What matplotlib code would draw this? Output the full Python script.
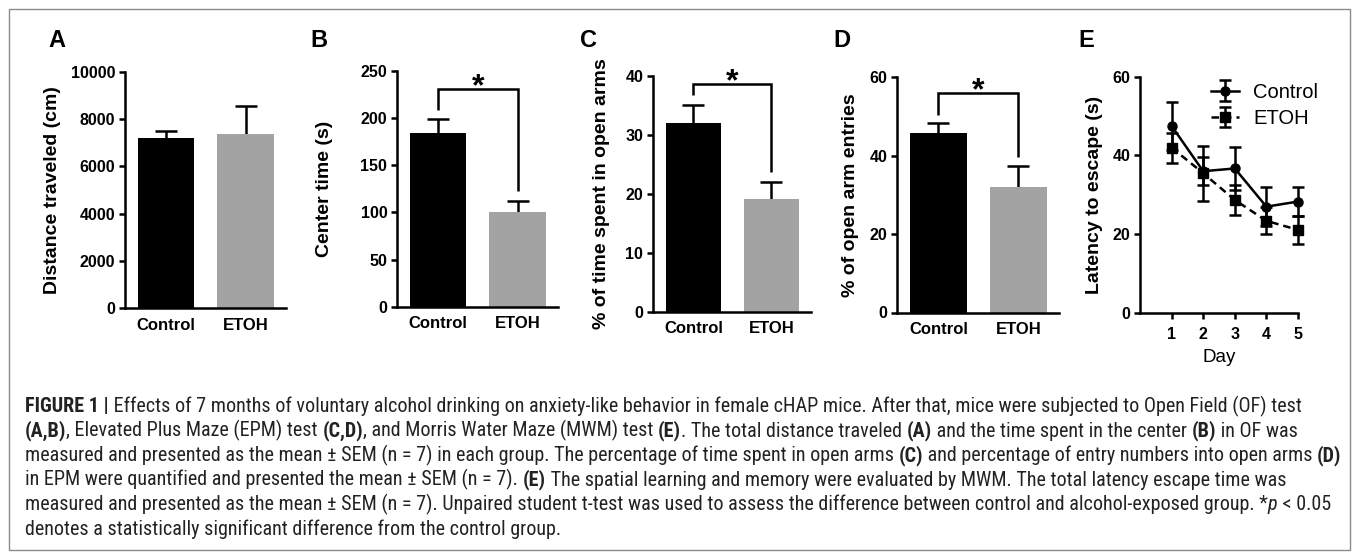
import matplotlib
matplotlib.use('Agg')
import matplotlib.pyplot as plt
from matplotlib import font_manager as fm
from matplotlib.patches import Rectangle
import numpy as np

W, H = 1357, 558
DPI = 100

# ---------------- data ----------------
groups = ['Control', 'ETOH']
dist_mean = [7200, 7380]
dist_sem = [320, 1170]
center_mean = [184, 100]
center_sem = [15, 12]
open_time_mean = [32.0, 19.1]
open_time_sem = [3.0, 2.9]
open_entry_mean = [45.7, 31.9]
open_entry_sem = [2.7, 5.5]
# significance brackets: [left leg bottom, top, right leg bottom]
bracket_B = [208, 231, 123]
bracket_C = [36.8, 38.7, 23.7]
bracket_D = [50.4, 55.9, 39.7]

days = [1, 2, 3, 4, 5]
ctrl_lat = [47.5, 36.0, 36.7, 27.0, 28.3]
ctrl_sem = [6.0, 3.5, 5.5, 4.9, 3.6]
etoh_lat = [42.0, 35.5, 28.7, 23.4, 21.1]
etoh_sem = [3.8, 7.0, 3.8, 3.4, 3.5]

panel_letters = ['A', 'B', 'C', 'D', 'E']

caption_lines = [
    [("FIGURE 1 |", 'bold', 'normal'),
     (" Effects of 7 months of voluntary alcohol drinking on anxiety-like behavior in female cHAP mice. After that, mice were subjected to Open Field (OF) test", 'normal', 'normal')],
    [("(A,B)", 'bold', 'normal'), (", Elevated Plus Maze (EPM) test ", 'normal', 'normal'),
     ("(C,D)", 'bold', 'normal'), (", and Morris Water Maze (MWM) test ", 'normal', 'normal'),
     ("(E)", 'bold', 'normal'), (". The total distance traveled ", 'normal', 'normal'),
     ("(A)", 'bold', 'normal'), (" and the time spent in the center ", 'normal', 'normal'),
     ("(B)", 'bold', 'normal'), (" in OF was", 'normal', 'normal')],
    [("measured and presented as the mean \u00b1 SEM (n = 7) in each group. The percentage of time spent in open arms ", 'normal', 'normal'),
     ("(C)", 'bold', 'normal'), (" and percentage of entry numbers into open arms ", 'normal', 'normal'),
     ("(D)", 'bold', 'normal')],
    [("in EPM were quantified and presented the mean \u00b1 SEM (n = 7). ", 'normal', 'normal'),
     ("(E)", 'bold', 'normal'),
     (" The spatial learning and memory were evaluated by MWM. The total latency escape time was", 'normal', 'normal')],
    [("measured and presented as the mean \u00b1 SEM (n = 7). Unpaired student t-test was used to assess the difference between control and alcohol-exposed group. *", 'normal', 'normal'),
     ("p", 'normal', 'italic'), (" < 0.05", 'normal', 'normal')],
    [("denotes a statistically significant difference from the control group.", 'normal', 'normal')],
]

# ---------------- style ----------------
plt.rcParams['font.family'] = ['Liberation Sans', 'DejaVu Sans']
plt.rcParams['axes.linewidth'] = 1.8

# pick a condensed font for the caption if one is installed
cap_family, cap_stretch = 'Liberation Sans', 'normal'
_ttf = fm.fontManager.ttflist
_pref = ['Liberation Sans Narrow', 'Roboto Condensed', 'Open Sans Condensed', 'Noto Sans Condensed']
_found = False
for p in _pref:
    if any(f.name == p for f in _ttf):
        cap_family, cap_stretch = p, 'normal'
        _found = True
        break
if not _found:
    for f in _ttf:
        st = str(f.stretch).lower()
        if 'condensed' in st or 'narrow' in f.fname.lower() or 'condensed' in f.fname.lower():
            cap_family, cap_stretch = f.name, f.stretch
            break

BLACK = '#000000'
GRAY = '#a3a3a3'
bar_colors = [BLACK, GRAY]
LW = 1.8

fig = plt.figure(figsize=(W / DPI, H / DPI), dpi=DPI)
fig.patch.set_facecolor('white')


def px_axes(l, t, r, b):
    return fig.add_axes([l / W, 1 - b / H, (r - l) / W, (b - t) / H])


def style_axes(ax):
    for s in ['top', 'right']:
        ax.spines[s].set_visible(False)
    ax.tick_params(axis='y', direction='out', length=4, width=LW, pad=3, labelsize=11.5)
    for lab in ax.get_yticklabels():
        lab.set_fontweight('bold')


def bar_panel(ax, means, sems, ylim, yticks, ylabel, label_x, bracket=None):
    x = np.arange(len(groups))
    ax.bar(x, means, width=0.71, color=bar_colors, edgecolor=bar_colors, linewidth=0, zorder=2)
    eb = ax.errorbar(x, means, yerr=[np.zeros(len(sems)), sems], fmt='none', ecolor='black',
                     elinewidth=LW, capsize=8, capthick=LW, zorder=1)
    for cl in eb[1]:
        if np.allclose(cl.get_ydata(), means):
            cl.set_visible(False)
    ax.set_xlim(-0.52, 1.51)
    ax.set_ylim(*ylim)
    ax.set_yticks(yticks)
    ax.set_xticks(x)
    ax.set_xticklabels(groups, fontsize=12, fontweight='bold')
    ax.tick_params(axis='x', length=0, pad=7)
    style_axes(ax)
    ax.set_ylabel(ylabel, fontsize=14, fontweight='bold', va='center')
    ax.yaxis.set_label_coords(label_x, 0.5)
    if bracket is not None:
        lb, top, rb = bracket
        ax.plot([0, 0, 1, 1], [lb, top, top, rb], color='black', lw=LW, clip_on=False,
                solid_capstyle='butt', solid_joinstyle='miter')
        ax.annotate('*', xy=(0.5, top), xytext=(0, -4.5), textcoords='offset points',
                    ha='center', va='baseline', fontsize=23, fontweight='bold',
                    annotation_clip=False)


axA = px_axes(125, 72, 286, 308)
bar_panel(axA, dist_mean, dist_sem, (0, 10000), np.arange(0, 10001, 2000),
          'Distance traveled (cm)', -0.453)
axB = px_axes(397, 70.7, 558, 306.7)
bar_panel(axB, center_mean, center_sem, (0, 250), np.arange(0, 251, 50),
          'Center time (s)', -0.453, bracket_B)
axC = px_axes(653, 76, 811, 311.5)
bar_panel(axC, open_time_mean, open_time_sem, (0, 40), np.arange(0, 41, 10),
          '% of time spent in open arms', -0.323, bracket_C)
axD = px_axes(897, 77.3, 1059, 312.5)
bar_panel(axD, open_entry_mean, open_entry_sem, (0, 60), np.arange(0, 61, 20),
          '% of open arm entries', -0.29, bracket_D)

# ---------------- panel E ----------------
axE = px_axes(1140, 76.7, 1298, 313)
axE.errorbar(days, ctrl_lat, yerr=ctrl_sem, fmt='-o', color='black', ms=6.5, lw=LW,
             elinewidth=LW, capsize=4, capthick=LW, clip_on=False, label='Control', zorder=3)
axE.errorbar(days, etoh_lat, yerr=etoh_sem, fmt='s', linestyle=(0, (3, 2)), color='black',
             ms=6.5, lw=LW, elinewidth=LW, capsize=4, capthick=LW, clip_on=False,
             label='ETOH', zorder=3)
axE.set_xlim(0, 5)
axE.set_ylim(0, 60)
axE.set_xticks(days)
axE.set_yticks(np.arange(0, 61, 20))
style_axes(axE)
axE.tick_params(axis='x', direction='out', length=4, width=LW, pad=6, labelsize=11.5)
for lab in axE.get_xticklabels():
    lab.set_fontweight('bold')
axE.set_ylabel('Latency to escape (s)', fontsize=14, fontweight='bold', va='center')
axE.yaxis.set_label_coords(-0.288, 0.5)
axE.set_xlabel('Day', fontsize=13.5, va='center')
axE.xaxis.set_label_coords(0.5, -0.19)
leg = axE.legend(loc='upper left', bbox_to_anchor=(0.45, 0.975), frameon=False, fontsize=14.5,
                 handlelength=1.4, handletextpad=0.7, labelspacing=0.38, borderpad=0,
                 borderaxespad=0)

# ---------------- panel letters ----------------
letter_x = [48, 310, 580, 833, 1078]
for lt, lx in zip(panel_letters, letter_x):
    fig.text(lx / W, 1 - 47 / H, lt, fontsize=17, fontweight='bold', ha='left', va='baseline')

# ---------------- caption ----------------
renderer = fig.canvas.get_renderer()


def seg_width(s, weight, style, size):
    kw = dict(fontsize=size, family=cap_family, stretch=cap_stretch, weight=weight, style=style)
    t = fig.text(0, 0, '|' + s + '|', **kw)
    w1 = t.get_window_extent(renderer).width
    t.remove()
    t = fig.text(0, 0, '||', **kw)
    w2 = t.get_window_extent(renderer).width
    t.remove()
    return w1 - w2


x0 = 25
widths10 = [sum(seg_width(s, w, st, 10) for s, w, st in line) for line in caption_lines]
cap_size = 10 * (1336 - x0) / max(widths10)

baseline0 = 412
line_step = 24.6
for i, line in enumerate(caption_lines):
    x = x0
    yb = baseline0 + i * line_step
    for s, w, st in line:
        fig.text(x / W, 1 - yb / H, s, fontsize=cap_size, family=cap_family,
                 stretch=cap_stretch, weight=w, style=st, ha='left', va='baseline',
                 color='#222222')
        x += seg_width(s, w, st, cap_size)

# ---------------- frame ----------------
fig.patches.append(Rectangle((9 / W, 1 - 550 / H), (1350 - 9) / W, (550 - 9) / H,
                             transform=fig.transFigure, fill=False, edgecolor='#8a8a8a',
                             linewidth=1.0))

fig.savefig('out.png', dpi=DPI, facecolor='white')
